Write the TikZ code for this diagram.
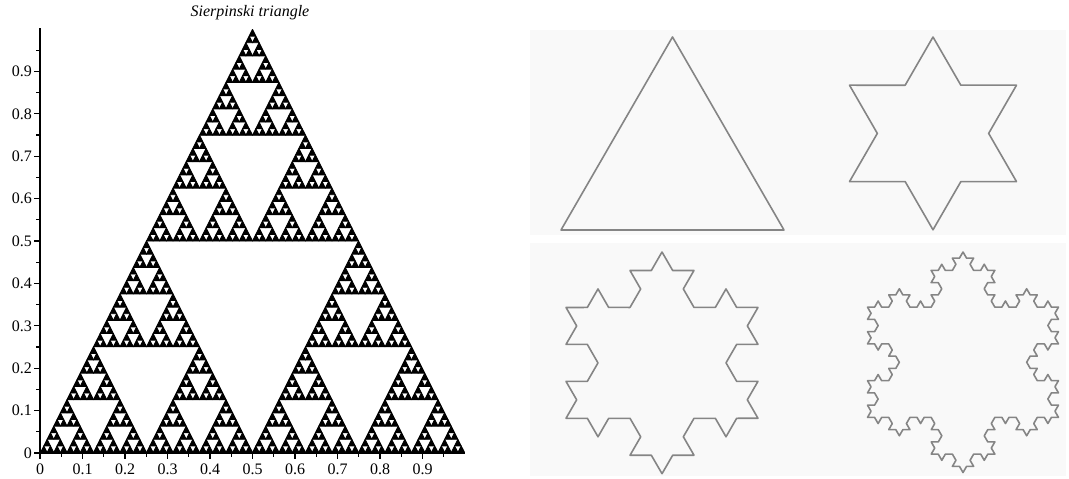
\documentclass[tikz,border=0pt]{standalone}
\usepackage{fontspec}
\setmainfont{Liberation Serif}
\usetikzlibrary{decorations.fractals}
\tikzset{
  ticklbl/.style={font=\fontsize{16}{16}\selectfont, inner sep=0pt},
  titlelbl/.style={font=\fontsize{16}{16}\selectfont\itshape, inner sep=0pt},
  axisline/.style={line width=1.2pt, black},
  majtick/.style={line width=1.2pt, black},
  mintick/.style={line width=1.1pt, black},
  kochline/.style={draw=black!48, line width=1.6pt, line join=round, line cap=round, decoration=Koch snowflake},
  panelbg/.style={fill=black!2.5, draw=none},
  sierpfill/.style={fill=black, draw=black, line width=0.9pt, line join=round},
}
\def\sierp#1#2#3#4{%
  \ifnum#1=0
    \path[sierpfill] (#2,#3) -- ++(#4,0) -- ++({-#4/2},#4) -- cycle;
  \else
    \begingroup
    \pgfmathsetmacro\sh{#4/2}%
    \pgfmathsetmacro\sxa{#2+\sh}%
    \pgfmathsetmacro\sxb{#2+\sh/2}%
    \pgfmathsetmacro\syb{#3+\sh}%
    \pgfmathtruncatemacro\sn{#1-1}%
    \edef\snext{\noexpand\sierp{\sn}{#2}{#3}{\sh}\noexpand\sierp{\sn}{\sxa}{#3}{\sh}\noexpand\sierp{\sn}{\sxb}{\syb}{\sh}}%
    \expandafter\endgroup\snext
  \fi}
\begin{document}
\begin{tikzpicture}[x=1pt,y=-1pt]
\useasboundingbox (0,0) rectangle (1069,479);
\fill[white] (0,0) rectangle (1069,479);
% background panels on the right
\fill[panelbg] (530,30) rectangle (1066,235);
\fill[panelbg] (530,243) rectangle (1066,476);

% Sierpinski triangle
\begin{scope}[shift={(40.5,452.5)},x=424pt,y=423pt]
  \sierp{6}{0}{0}{1}
\end{scope}

% axes
\coordinate (O) at (40,453);
\coordinate (ytop) at (40,28);
\coordinate (xend) at (465,453);
\draw[axisline] (ytop) -- (O) -- (xend);
\foreach \i in {0,...,9}{
  \draw[majtick] (40,{453-42.4*\i}) -- ++(-6,0);
  \draw[mintick] (40,{453-42.4*\i-21.2}) -- ++(-4,0);
  \draw[majtick] ({40+42.5*\i},453) -- ++(0,6);
  \draw[mintick] ({40+42.5*\i+21.25},453) -- ++(0,4);
  \node[ticklbl, anchor=east] (yl\i) at (32,{453-42.4*\i}) {\ifnum\i=0 0\else 0.\i\fi};
  \node[ticklbl, anchor=north] (xl\i) at ({40+42.5*\i},464) {\ifnum\i=0 0\else 0.\i\fi};
}
\node[titlelbl] (title) at (250,13) {Sierpinski triangle};

% Koch snowflake iterations
\draw[kochline] (672.5,37) -- (784,230) -- (561,230) -- cycle;
\draw[kochline] decorate{(933,37) -- (1016.5,181.6) -- (849.5,181.6) -- (933,37)};
\draw[kochline] decorate{decorate{(662,252) -- (758,418.3) -- (566,418.3) -- (662,252)}};
\draw[kochline] decorate{decorate{decorate{(963,252) -- (1058.5,417.4) -- (867.5,417.4) -- (963,252)}}};
\end{tikzpicture}
\end{document}
